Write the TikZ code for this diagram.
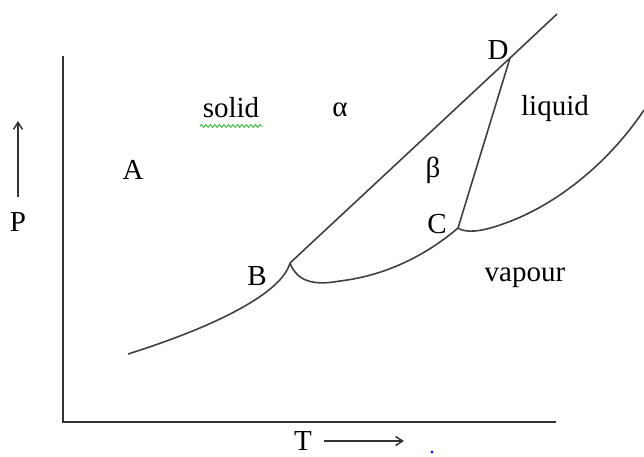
\documentclass[tikz,border=0pt]{standalone}
\usepackage{fontspec}
\setmainfont{Liberation Serif}
\usetikzlibrary{arrows.meta,decorations.pathmorphing}
\definecolor{wavy}{RGB}{60,180,60}
\begin{document}
\begin{tikzpicture}[x=1pt,y=-1pt,
  lbl/.style={font=\fontsize{29}{34}\selectfont, inner sep=0pt},
  curve/.style={draw=black!75, line width=1.6pt},
  axis/.style={draw=black!80, line width=1.8pt}]
\path[use as bounding box] (0,0) rectangle (644,456);
% axes
\coordinate (ytop) at (63,56);
\coordinate (org) at (63,422);
\coordinate (xend) at (556,422);
\draw[axis] (ytop) -- (org) -- (xend);
% key points
\coordinate (B) at (290,263);
\coordinate (C) at (458,228);
\coordinate (D) at (510,58);
\coordinate (top) at (557,14);
\coordinate (s0) at (128,354);
\coordinate (r1) at (644,110);
% lines and curves
\draw[curve] (B) -- (D) -- (top);
\draw[curve] (D) -- (C);
\draw[curve] (s0) .. controls (220,325) and (282,292) .. (B);
\draw[curve] (B) .. controls (298,284) and (318,285) .. (340,281)
                 .. controls (390,275) and (430,252) .. (C);
\draw[curve] (C) .. controls (465,233) and (480,232) .. (500,225)
                 .. controls (560,205) and (612,158) .. (r1);
% labels
\node[lbl] (lA) at (133,170) {A};
\node[lbl] (lsolid) at (231,108) {solid};
\node[lbl] (lalpha) at (340,110) {α};
\node[lbl] (lbeta) at (433,170) {β};
\node[lbl] (lliquid) at (555,109) {liquid};
\node[lbl] (lD) at (498,50) {D};
\node[lbl] (lC) at (437,224) {C};
\node[lbl] (lB) at (257,276) {B};
\node[lbl] (lvap) at (525,278) {vapour};
\node[lbl] (lP) at (18,222) {P};
\node[lbl] (lT) at (303,441) {T};
% wavy underline
\coordinate (w0) at (200,126);
\coordinate (w1) at (263,126);
\draw[wavy, line width=0.9pt, decorate, decoration={snake, amplitude=1.4pt, segment length=4.5pt}] (w0) -- (w1);
% arrows
\coordinate (pa0) at (18,197);
\coordinate (pa1) at (18,121);
\draw[black!80, line width=1.5pt, -{Straight Barb[length=7pt,width=9pt]}] (pa0) -- (pa1);
\coordinate (ta0) at (324,441);
\coordinate (ta1) at (404,441);
\draw[black!80, line width=1.5pt, -{Straight Barb[length=7pt,width=9pt]}] (ta0) -- (ta1);
% blue dot
\fill[blue] (432,452) circle (1.5);
\end{tikzpicture}
\end{document}
